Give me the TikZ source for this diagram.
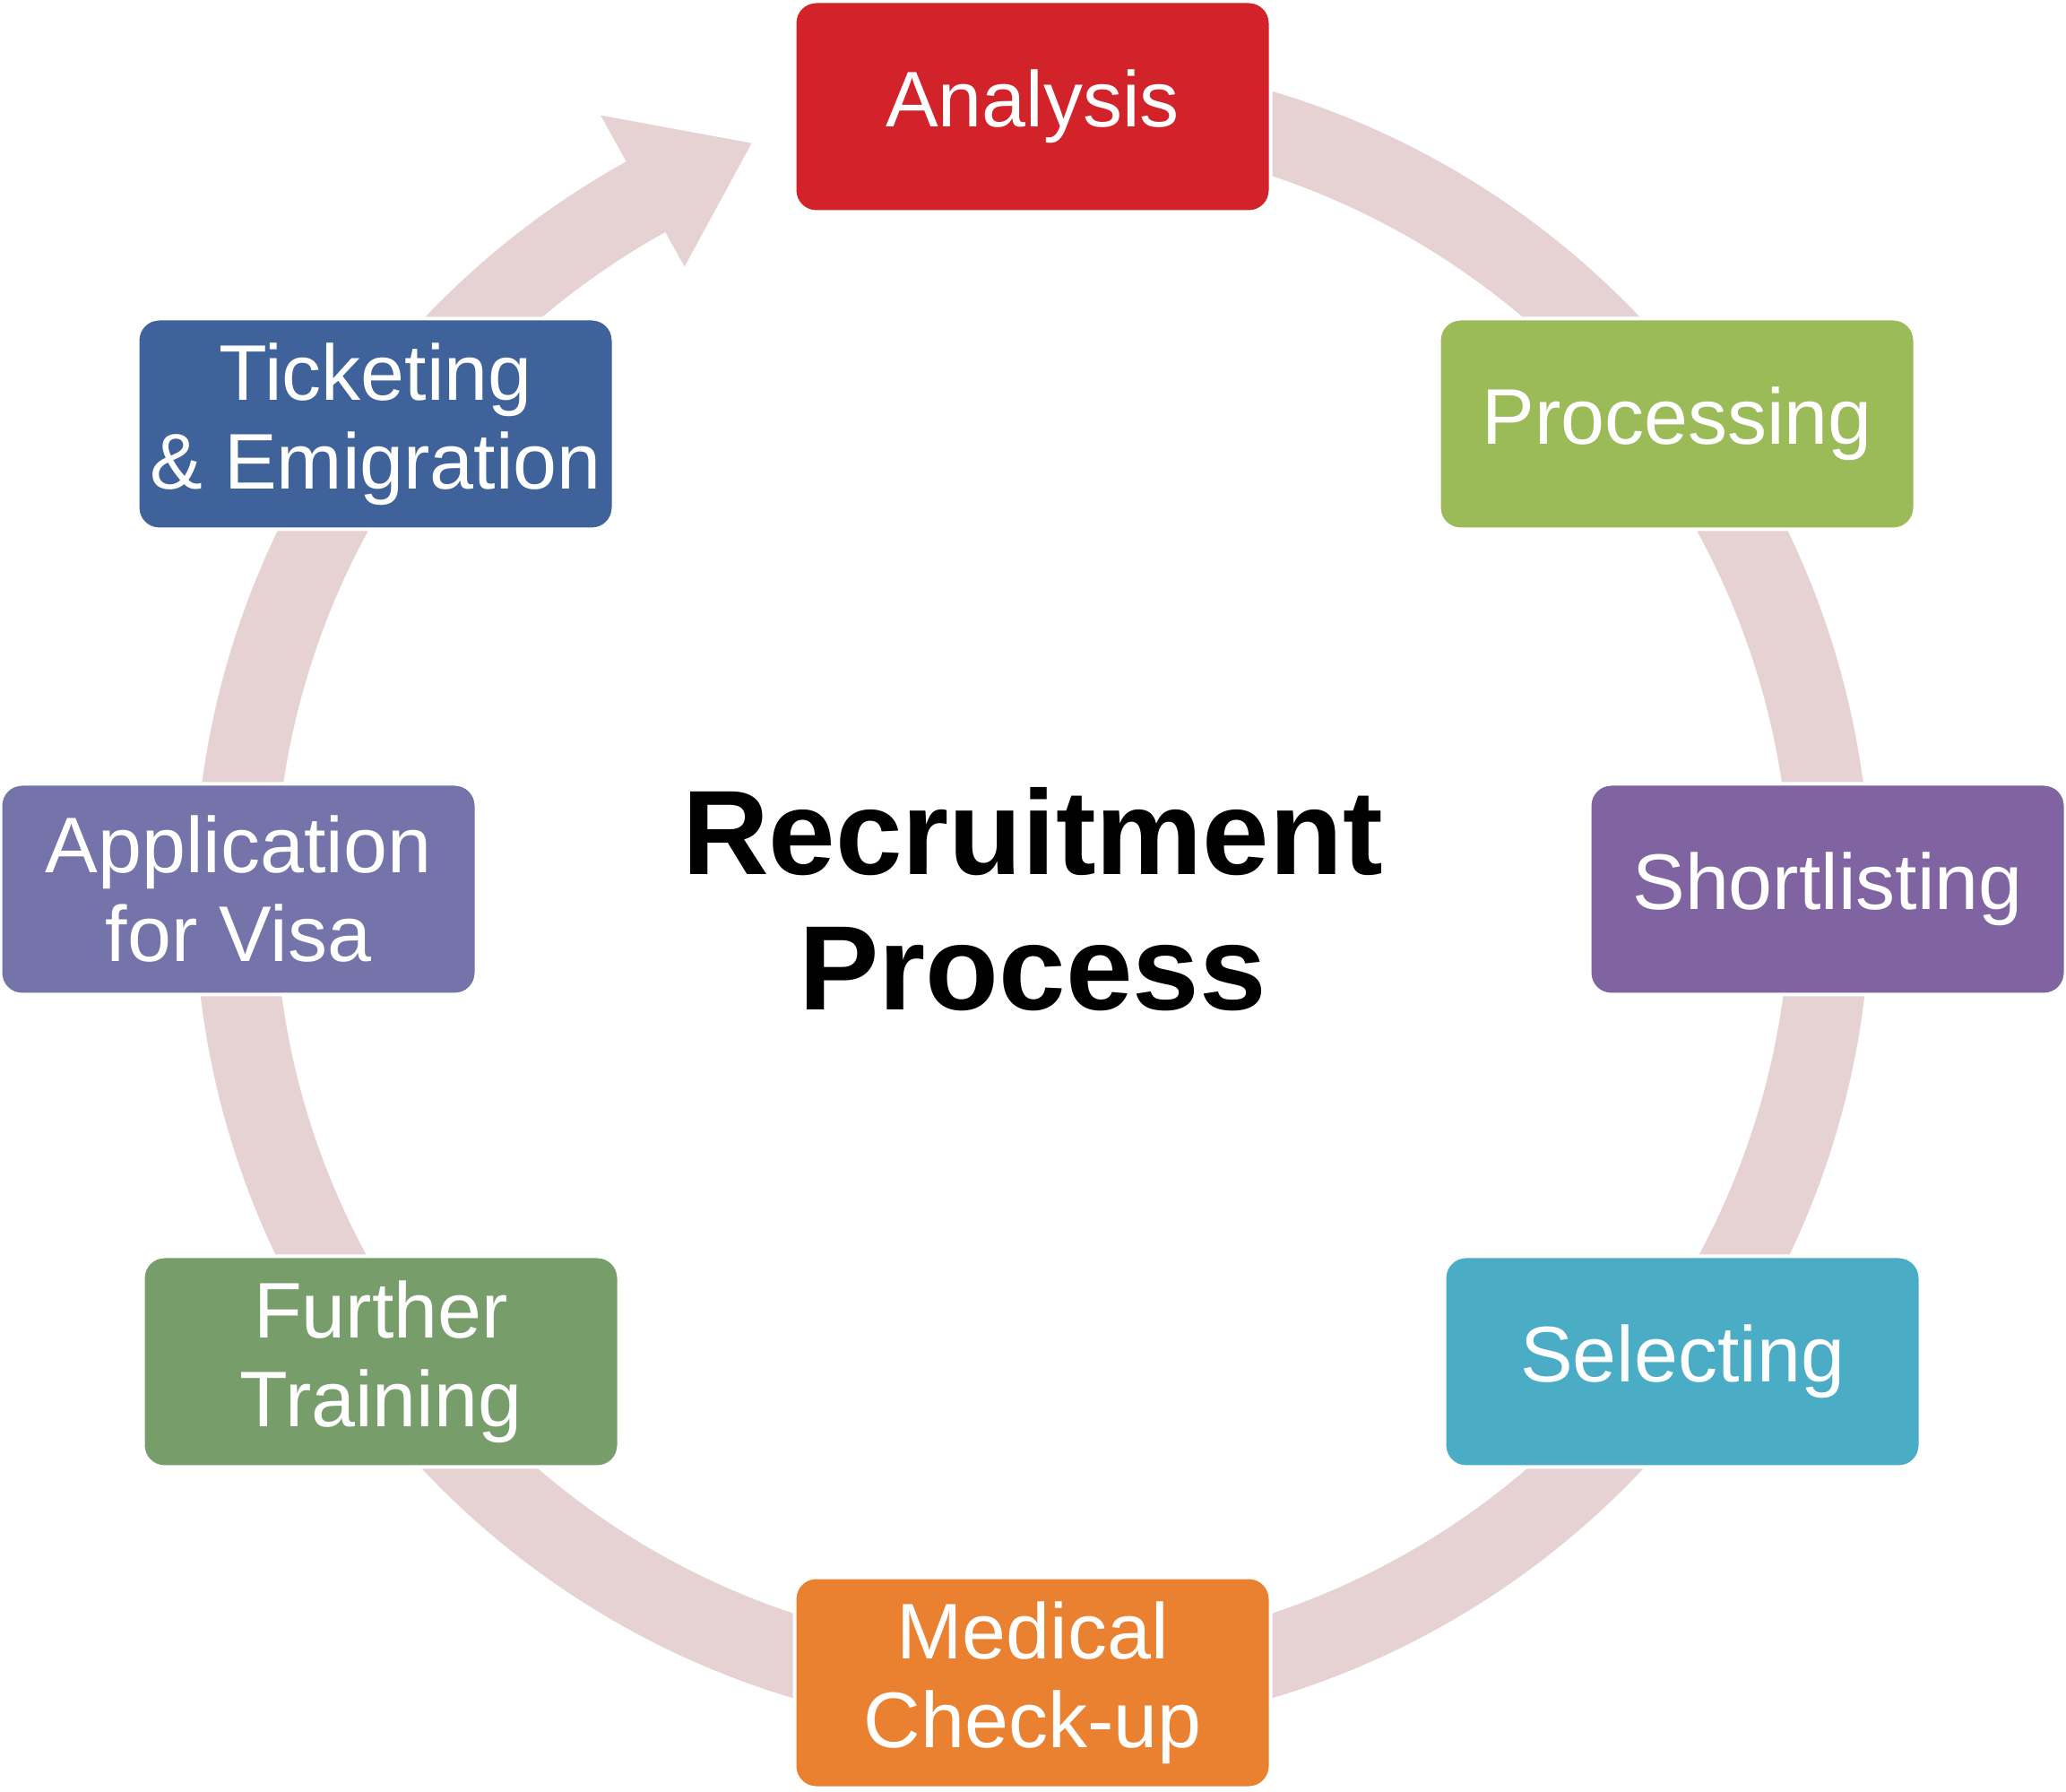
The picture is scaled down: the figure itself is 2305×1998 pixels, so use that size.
\documentclass[tikz,border=0pt]{standalone}
\usepackage{fontspec}
\setmainfont{Liberation Sans}

\definecolor{ringpink}{HTML}{E6D2D3}
\definecolor{analysisred}{HTML}{D2232A}
\definecolor{processinggreen}{HTML}{9BBB59}
\definecolor{shortlistpurple}{HTML}{8064A2}
\definecolor{selectingblue}{HTML}{4BACC6}
\definecolor{medicalorange}{HTML}{EA8130}
\definecolor{traininggreen}{HTML}{779E6A}
\definecolor{visaviolet}{HTML}{7474AA}
\definecolor{ticketingblue}{HTML}{3E6299}

\begin{document}
\begin{tikzpicture}[x=1pt, y=1pt,
    stagebox/.style={draw=white,
                     line width=4pt,
                     rounded corners=24pt,
                     minimum width=531pt,
                     minimum height=235pt,
                     inner sep=0pt,
                     align=center,
                     text=white,
                     font=\fontsize{88}{99}\selectfont}]

                \useasboundingbox (0, 0) rectangle (2305, 1998);

                % circular arrow behind the boxes
                \fill[ringpink, shift={(1152, 1000)}]
                    (90:935) arc[start angle=90, end angle=-241, radius=935]
                    -- (-241:994) -- (-249.5:895) -- (-241:801) -- (-241:845)
                    arc[start angle=-241, end angle=90, radius=845] -- cycle;

                \node[stagebox, fill=analysisred] (analysis) at (1152, 1879) {Analysis};
                \node[stagebox, fill=processinggreen] (processing) at (1871, 1525) {Processing};
                \node[stagebox, fill=shortlistpurple] (shortlisting) at (2039, 1006) {Shortlisting};
                \node[stagebox, fill=selectingblue] (selecting) at (1877, 479) {Selecting};
                \node[stagebox, fill=medicalorange] (medical) at (1152, 121) {Medical\\Check-up};
                \node[stagebox, fill=traininggreen] (training) at (425, 479) {Further\\Training};
                \node[stagebox, fill=visaviolet] (visa) at (266, 1006) {Application\\for Visa};
                \node[stagebox, fill=ticketingblue] (ticketing) at (419, 1525) {Ticketing\\\& Emigration};

                \node[align=center,
                      font=\fontsize{134}{151}\selectfont\bfseries]
                    (title) at (1152, 995) {Recruitment\\Process};
            \end{tikzpicture}
\end{document}
